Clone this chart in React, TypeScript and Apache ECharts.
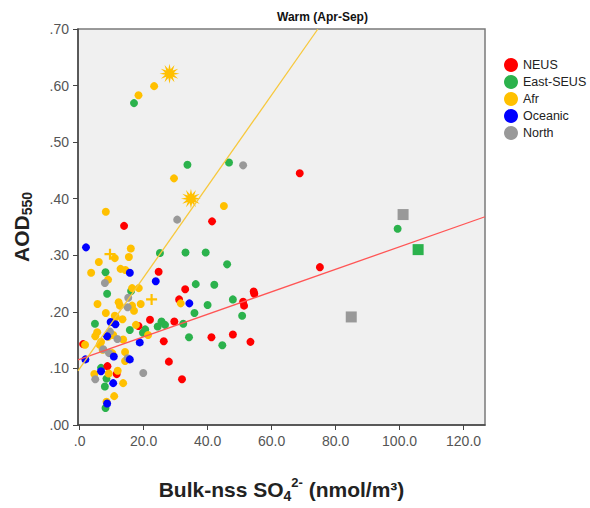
import React, { useEffect, useRef } from "react";
import * as echarts from "echarts";

// ---- data (x = Bulk-nss SO4 2- nmol/m3, y = AOD550) ----
const neus: number[][] = [
  [1.1, 0.143], [8.7, 0.104], [11.6, 0.090], [13.9, 0.352], [18.4, 0.175], [22.0, 0.186],
  [24.7, 0.271], [26.3, 0.148], [27.9, 0.112], [29.6, 0.183], [31.1, 0.222], [32.0, 0.081],
  [33.0, 0.240], [41.2, 0.155], [41.4, 0.360], [47.9, 0.160], [51.1, 0.218], [51.4, 0.211],
  [53.4, 0.147], [54.4, 0.236], [54.6, 0.232], [68.8, 0.445], [75.1, 0.279],
];
const eastSeus: number[][] = [
  [4.8, 0.179], [6.7, 0.101], [7.9, 0.068], [8.1, 0.270], [8.1, 0.030], [8.4, 0.082],
  [8.6, 0.232], [15.7, 0.168], [16.1, 0.237], [17.0, 0.569], [19.8, 0.163], [20.5, 0.169],
  [24.4, 0.174], [25.1, 0.304], [25.6, 0.183], [26.7, 0.177], [32.4, 0.179], [33.1, 0.305],
  [33.7, 0.460], [34.2, 0.155], [35.9, 0.198], [36.3, 0.249], [39.4, 0.305], [40.0, 0.212],
  [42.1, 0.248], [44.6, 0.141], [46.1, 0.284], [46.7, 0.464], [47.9, 0.222], [50.8, 0.193],
  [99.4, 0.347],
];
const eastSeusSquares: number[][] = [[105.8, 0.310]];
const afr: number[][] = [
  [1.7, 0.142], [3.6, 0.269], [4.6, 0.090], [4.9, 0.157], [5.5, 0.164], [5.6, 0.214],
  [6.0, 0.288], [6.3, 0.142], [6.7, 0.147], [7.2, 0.133], [8.2, 0.377], [8.2, 0.198],
  [8.4, 0.041], [8.9, 0.257], [8.9, 0.156], [9.1, 0.091], [10.2, 0.127], [10.5, 0.159],
  [10.8, 0.051], [11.0, 0.295], [11.0, 0.193], [11.3, 0.191], [11.9, 0.096], [12.2, 0.217],
  [12.6, 0.211], [12.8, 0.276], [13.4, 0.187], [13.6, 0.151], [13.6, 0.074], [14.2, 0.129],
  [14.2, 0.113], [14.3, 0.274], [15.4, 0.297], [16.0, 0.312], [16.4, 0.242], [16.4, 0.211],
  [17.0, 0.202], [17.6, 0.177], [18.4, 0.583], [18.5, 0.242], [19.1, 0.214], [21.4, 0.159],
  [23.3, 0.599], [29.5, 0.436], [31.6, 0.215], [45.1, 0.387],
];
const afrStars: number[][] = [[28.1, 0.621], [34.8, 0.400]];
const afrPlus: number[][] = [[9.5, 0.302], [22.5, 0.222]];
const oceanic: number[][] = [
  [1.8, 0.116], [2.0, 0.314], [6.7, 0.095], [8.6, 0.157], [8.6, 0.038], [9.7, 0.182],
  [10.5, 0.074], [10.7, 0.121], [11.2, 0.178], [15.7, 0.269], [15.7, 0.116], [18.8, 0.146],
  [23.8, 0.254], [34.3, 0.215],
];
const north: number[][] = [
  [4.9, 0.081], [7.4, 0.134], [7.9, 0.251], [9.2, 0.127], [9.5, 0.165], [11.8, 0.152],
  [15.0, 0.208], [15.0, 0.118], [15.2, 0.225], [19.9, 0.092], [30.5, 0.363], [51.1, 0.459],
];
const northSquares: number[][] = [[84.9, 0.191], [101.1, 0.372]];

// fit lines: [intercept, slope]
const neusFit = [0.116, 0.00199];
const afrFit = [0.0997, 0.00806];

const legendNames = ["NEUS", "East-SEUS", "Afr", "Oceanic", "North"];
const xTicks = [0, 20, 40, 60, 80, 100, 120];
const X_MIN = -0.5;
const X_MAX = 126.7;
const Y_MIN = 0;
const Y_MAX = 0.7;

const COLORS: Record<string, string> = {
  NEUS: "#ff0000",
  "East-SEUS": "#2bb24c",
  Afr: "#ffc000",
  Oceanic: "#0000ff",
  North: "#999999",
};

function starPath(n: number, inner: number): string {
  let d = "path://";
  for (let i = 0; i < n * 2; i++) {
    const r = i % 2 === 0 ? 10 : 10 * inner;
    const a = (Math.PI * i) / n - Math.PI / 2;
    d += (i === 0 ? "M" : "L") + (10 + r * Math.cos(a)).toFixed(2) + "," + (10 + r * Math.sin(a)).toFixed(2);
  }
  return d + "Z";
}
const plusPath = "path://M4,0H6V4H10V6H6V10H4V6H0V4H4Z";

const FONT = 'Arial, "Liberation Sans", sans-serif';

export default function App() {
  const ref = useRef<HTMLDivElement>(null);
  useEffect(() => {
    if (!ref.current) return;
    const chart = echarts.init(ref.current, undefined, { renderer: "svg" });
    const fitLine = (fit: number[], x1: number) => [
      [X_MIN, fit[0] + fit[1] * X_MIN],
      [x1, fit[0] + fit[1] * x1],
    ];
    const scat = (name: string, data: number[][], symbol = "circle", size = 8) => ({
      type: "scatter",
      name,
      data,
      symbol,
      symbolSize: size,
      itemStyle: { color: COLORS[name], opacity: 1 },
      emphasis: { disabled: true },
      silent: true,
    });
    chart.setOption({
      animation: false,
      backgroundColor: "#ffffff",
      textStyle: { fontFamily: FONT },
      title: {
        text: "Warm (Apr-Sep)",
        left: 277,
        top: 11,
        padding: 0,
        textStyle: { fontSize: 12, fontWeight: "bold", color: "#111", fontFamily: FONT },
      },
      legend: {
        orient: "vertical",
        left: 504,
        top: 58,
        padding: 0,
        itemWidth: 14,
        itemHeight: 14,
        itemGap: 3,
        selectedMode: false,
        data: legendNames.map((n) => ({ name: n, icon: "circle" })),
        textStyle: { fontSize: 12.5, color: "#222", fontFamily: FONT },
      },
      grid: {
        left: 78,
        top: 29,
        width: 407,
        height: 413,
        show: true,
        backgroundColor: "#f0f0f0",
        borderColor: "#7a7a7a",
        borderWidth: 1.5,
      },
      xAxis: {
        type: "value",
        min: X_MIN,
        max: X_MAX,
        splitLine: { show: false },
        axisLine: { show: true, onZero: false, lineStyle: { color: "#444", width: 1.5 } },
        axisTick: { show: true, length: 5, customValues: xTicks, lineStyle: { color: "#444" } },
        axisLabel: {
          customValues: xTicks,
          margin: 9,
          fontSize: 14,
          color: "#555",
          fontFamily: FONT,
          formatter: (v: number) => (v === 0 ? ".0" : v.toFixed(1)),
        },
        name: "{a|Bulk-nss SO}{s|4}{p|2-}{a| (nmol/m³)}",
        nameLocation: "middle",
        nameGap: 51,
        nameTextStyle: {
          rich: {
            a: { fontSize: 21, fontWeight: "bold", color: "#222", fontFamily: FONT, lineHeight: 27 },
            s: { fontSize: 14, fontWeight: "bold", color: "#222", fontFamily: FONT, lineHeight: 14, verticalAlign: "bottom" },
            p: { fontSize: 13, fontWeight: "bold", color: "#222", fontFamily: FONT, lineHeight: 13, verticalAlign: "top" },
          },
        },
      },
      yAxis: {
        type: "value",
        min: Y_MIN,
        max: Y_MAX,
        interval: 0.1,
        splitLine: { show: false },
        axisLine: { show: true, onZero: false, lineStyle: { color: "#444", width: 1.5 } },
        axisTick: { show: true, length: 5, lineStyle: { color: "#444" } },
        axisLabel: {
          margin: 9,
          fontSize: 14,
          color: "#555",
          fontFamily: FONT,
          formatter: (v: number) => v.toFixed(2).replace(/^0/, ""),
        },
        name: "{a|AOD}{b|550}",
        nameLocation: "middle",
        nameGap: 44,
        nameRotate: 90,
        nameTextStyle: {
          rich: {
            a: { fontSize: 21, fontWeight: "bold", color: "#222", fontFamily: FONT, lineHeight: 26 },
            b: { fontSize: 14, fontWeight: "bold", color: "#222", fontFamily: FONT, lineHeight: 14, verticalAlign: "bottom" },
          },
        },
      },
      series: [
        scat("East-SEUS", eastSeus),
        scat("NEUS", neus),
        scat("Afr", afr),
        scat("North", north),
        scat("Oceanic", oceanic),
        scat("East-SEUS", eastSeusSquares, "rect", 11),
        scat("North", northSquares, "rect", 11),
        scat("Afr", afrStars, starPath(12, 0.45), 20),
        scat("Afr", afrPlus, plusPath, 11),
        {
          type: "line",
          name: "NEUS fit",
          data: fitLine(neusFit, X_MAX),
          symbol: "none",
          silent: true,
          z: 3,
          lineStyle: { color: "#ff5555", width: 1.3 },
        },
        {
          type: "line",
          name: "Afr fit",
          data: fitLine(afrFit, (Y_MAX - afrFit[0]) / afrFit[1]),
          symbol: "none",
          silent: true,
          z: 3,
          lineStyle: { color: "#f7c83c", width: 1.3 },
        },
      ],
    });
    return () => chart.dispose();
  }, []);
  return (
    <div
      ref={ref}
      style={{ position: "fixed", left: 0, top: 0, width: 590, height: 508, background: "#fff" }}
    />
  );
}
